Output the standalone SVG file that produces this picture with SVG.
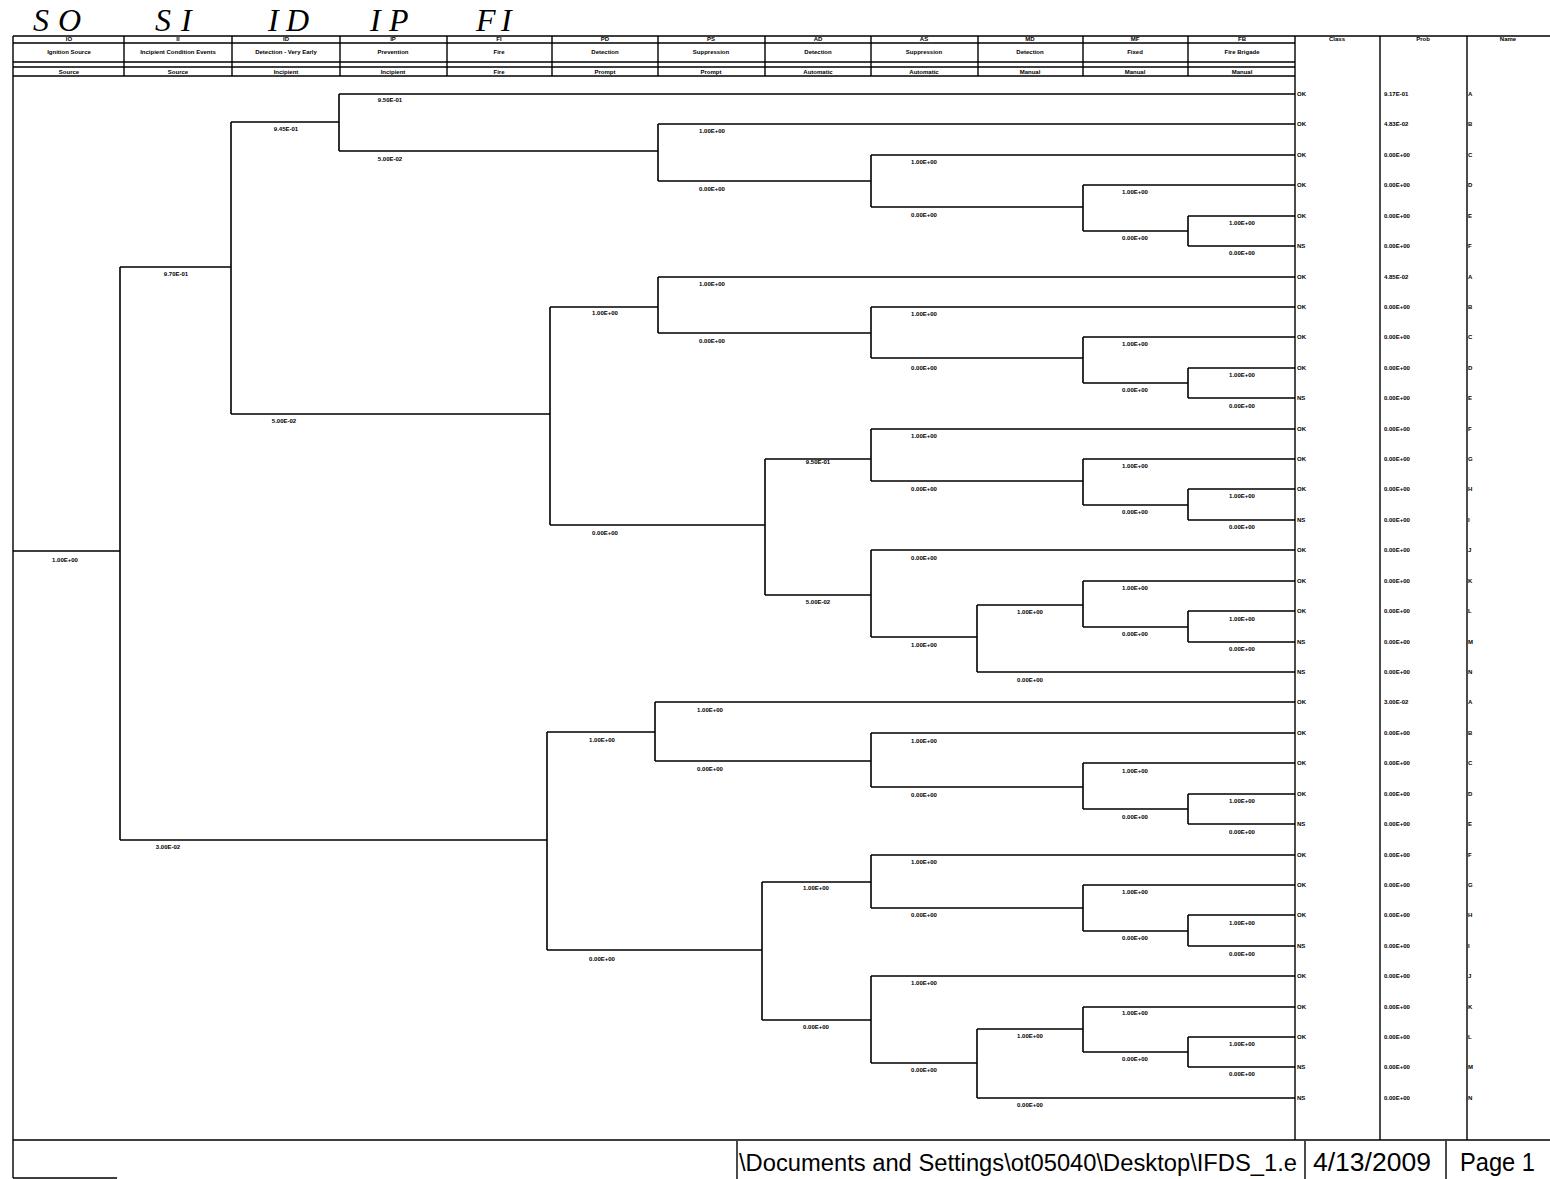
<svg xmlns="http://www.w3.org/2000/svg" width="1550" height="1179" viewBox="0 0 1550 1179">
<style>
.ln{stroke:#000;stroke-width:1.6;fill:none}
.bd{stroke:#000;stroke-width:1.4;fill:none}
.t{font-family:"Liberation Sans",Arial,sans-serif;font-size:6px;font-weight:bold;text-anchor:middle;fill:#000}
.s{font-family:"Liberation Sans",Arial,sans-serif;font-size:6px;font-weight:bold;fill:#000}
.h{font-family:"Liberation Serif","Times New Roman",serif;font-size:32px;font-style:italic;fill:#000}
.f{font-family:"Liberation Sans",Arial,sans-serif;font-size:25px;fill:#000}
</style>
<rect width="1550" height="1179" fill="#fff"/>
<g id="handwriting">
<text class="h" x="33" y="31">S</text><text class="h" x="58" y="31">O</text>
<text class="h" x="155" y="31">S</text><text class="h" x="181" y="31">I</text>
<text class="h" x="268" y="31">I</text><text class="h" x="286" y="31">D</text>
<text class="h" x="370" y="31">I</text><text class="h" x="389" y="31">P</text>
<text class="h" x="476" y="31">F</text><text class="h" x="501" y="31">I</text>
</g>
<g id="header">
<path class="bd" d="M13,36 H1550 M13,43 H1295 M13,62 H1295 M13,67 H1295 M13,76 H1295 M13,36 V1178 M124,36 V76 M232,36 V76 M340,36 V76 M447,36 V76 M552,36 V76 M658,36 V76 M765,36 V76 M871,36 V76 M978,36 V76 M1083,36 V76 M1188,36 V76 M1295,36 V1140 M1380,36 V1140 M1467,36 V1140"/>
<text class="t" x="69" y="41">IO</text><text class="t" x="69" y="54">Ignition Source</text><text class="t" x="69" y="74">Source</text>
<text class="t" x="178" y="41">II</text><text class="t" x="178" y="54">Incipient Condition Events</text><text class="t" x="178" y="74">Source</text>
<text class="t" x="286" y="41">ID</text><text class="t" x="286" y="54">Detection - Very Early</text><text class="t" x="286" y="74">Incipient</text>
<text class="t" x="393" y="41">IP</text><text class="t" x="393" y="54">Prevention</text><text class="t" x="393" y="74">Incipient</text>
<text class="t" x="499" y="41">FI</text><text class="t" x="499" y="54">Fire</text><text class="t" x="499" y="74">Fire</text>
<text class="t" x="605" y="41">PD</text><text class="t" x="605" y="54">Detection</text><text class="t" x="605" y="74">Prompt</text>
<text class="t" x="711" y="41">PS</text><text class="t" x="711" y="54">Suppression</text><text class="t" x="711" y="74">Prompt</text>
<text class="t" x="818" y="41">AD</text><text class="t" x="818" y="54">Detection</text><text class="t" x="818" y="74">Automatic</text>
<text class="t" x="924" y="41">AS</text><text class="t" x="924" y="54">Suppression</text><text class="t" x="924" y="74">Automatic</text>
<text class="t" x="1030" y="41">MD</text><text class="t" x="1030" y="54">Detection</text><text class="t" x="1030" y="74">Manual</text>
<text class="t" x="1135" y="41">MF</text><text class="t" x="1135" y="54">Fixed</text><text class="t" x="1135" y="74">Manual</text>
<text class="t" x="1242" y="41">FB</text><text class="t" x="1242" y="54">Fire Brigade</text><text class="t" x="1242" y="74">Manual</text>
<text class="t" x="1337" y="41">Class</text><text class="t" x="1423" y="41">Prob</text><text class="t" x="1508" y="41">Name</text>
</g>
<g id="connectors">
<path class="ln" d="M13,551 H120 M120,267 V840 M120,267 H231 M120,840 H547
M231,122 V414 M231,122 H339 M231,414 H550
M339,94 V151 M339,94 H1295 M339,151 H658
M658,124 V181 M658,124 H1295 M658,181 H871
M871,155 V207 M871,155 H1295 M871,207 H1083
M1083,185 V231 M1083,185 H1295 M1083,231 H1188
M1188,216 V246 M1188,216 H1295 M1188,246 H1295
M550,307 V525 M550,307 H658 M550,525 H765
M658,277 V333 M658,277 H1295 M658,333 H871
M871,307 V358 M871,307 H1295 M871,358 H1083
M1083,337 V383 M1083,337 H1295 M1083,383 H1188
M1188,368 V398 M1188,368 H1295 M1188,398 H1295
M765,459 V595 M765,459 H871 M765,595 H871
M871,429 V481 M871,429 H1295 M871,481 H1083
M1083,459 V505 M1083,459 H1295 M1083,505 H1188
M1188,489 V520 M1188,489 H1295 M1188,520 H1295
M871,550 V637 M871,550 H1295 M871,637 H977
M977,605 V672 M977,605 H1083 M977,672 H1295
M1083,581 V627 M1083,581 H1295 M1083,627 H1188
M1188,611 V642 M1188,611 H1295 M1188,642 H1295
M547,732 V950 M547,732 H655 M547,950 H762
M655,702 V761 M655,702 H1295 M655,761 H871
M871,733 V787 M871,733 H1295 M871,787 H1083
M1083,763 V809 M1083,763 H1295 M1083,809 H1188
M1188,794 V824 M1188,794 H1295 M1188,824 H1295
M762,882 V1020 M762,882 H871 M762,1020 H871
M871,855 V908 M871,855 H1295 M871,908 H1083
M1083,885 V931 M1083,885 H1295 M1083,931 H1188
M1188,915 V946 M1188,915 H1295 M1188,946 H1295
M871,976 V1063 M871,976 H1295 M871,1063 H977
M977,1029 V1098 M977,1029 H1083 M977,1098 H1295
M1083,1007 V1052 M1083,1007 H1295 M1083,1052 H1188
M1188,1037 V1067 M1188,1037 H1295 M1188,1067 H1295"/>
</g>
<g id="branch-labels">
<g id="n-root"><text class="t" x="65" y="562">1.00E+00</text></g>
<g id="n-II"><text class="t" x="176" y="276">9.70E-01</text><text class="t" x="168" y="849">3.00E-02</text></g>
<g id="n-ID"><text class="t" x="286" y="131">9.45E-01</text><text class="t" x="284" y="423">5.00E-02</text></g>
<g id="n-IP"><text class="t" x="390" y="102">9.50E-01</text><text class="t" x="390" y="161">5.00E-02</text></g>
<g id="n-g1"><text class="t" x="712" y="133">1.00E+00</text><text class="t" x="712" y="191">0.00E+00</text>
<text class="t" x="924" y="164">1.00E+00</text><text class="t" x="924" y="217">0.00E+00</text>
<text class="t" x="1135" y="194">1.00E+00</text><text class="t" x="1135" y="240">0.00E+00</text>
<text class="t" x="1242" y="225">1.00E+00</text><text class="t" x="1242" y="255">0.00E+00</text></g>
<g id="n-g2"><text class="t" x="605" y="315">1.00E+00</text><text class="t" x="605" y="535">0.00E+00</text>
<text class="t" x="712" y="286">1.00E+00</text><text class="t" x="712" y="343">0.00E+00</text>
<text class="t" x="924" y="316">1.00E+00</text><text class="t" x="924" y="370">0.00E+00</text>
<text class="t" x="1135" y="346">1.00E+00</text><text class="t" x="1135" y="392">0.00E+00</text>
<text class="t" x="1242" y="377">1.00E+00</text><text class="t" x="1242" y="408">0.00E+00</text>
<text class="t" x="818" y="464">9.50E-01</text><text class="t" x="818" y="604">5.00E-02</text>
<text class="t" x="924" y="438">1.00E+00</text><text class="t" x="924" y="491">0.00E+00</text>
<text class="t" x="1135" y="468">1.00E+00</text><text class="t" x="1135" y="514">0.00E+00</text>
<text class="t" x="1242" y="498">1.00E+00</text><text class="t" x="1242" y="529">0.00E+00</text>
<text class="t" x="924" y="560">0.00E+00</text><text class="t" x="924" y="647">1.00E+00</text>
<text class="t" x="1030" y="614">1.00E+00</text><text class="t" x="1030" y="682">0.00E+00</text>
<text class="t" x="1135" y="590">1.00E+00</text><text class="t" x="1135" y="636">0.00E+00</text>
<text class="t" x="1242" y="621">1.00E+00</text><text class="t" x="1242" y="651">0.00E+00</text></g>
<g id="n-g3"><text class="t" x="602" y="742">1.00E+00</text><text class="t" x="602" y="961">0.00E+00</text>
<text class="t" x="710" y="712">1.00E+00</text><text class="t" x="710" y="771">0.00E+00</text>
<text class="t" x="924" y="743">1.00E+00</text><text class="t" x="924" y="797">0.00E+00</text>
<text class="t" x="1135" y="773">1.00E+00</text><text class="t" x="1135" y="819">0.00E+00</text>
<text class="t" x="1242" y="803">1.00E+00</text><text class="t" x="1242" y="834">0.00E+00</text>
<text class="t" x="816" y="890">1.00E+00</text><text class="t" x="816" y="1029">0.00E+00</text>
<text class="t" x="924" y="864">1.00E+00</text><text class="t" x="924" y="917">0.00E+00</text>
<text class="t" x="1135" y="894">1.00E+00</text><text class="t" x="1135" y="940">0.00E+00</text>
<text class="t" x="1242" y="925">1.00E+00</text><text class="t" x="1242" y="956">0.00E+00</text>
<text class="t" x="924" y="985">1.00E+00</text><text class="t" x="924" y="1072">0.00E+00</text>
<text class="t" x="1030" y="1038">1.00E+00</text><text class="t" x="1030" y="1107">0.00E+00</text>
<text class="t" x="1135" y="1015">1.00E+00</text><text class="t" x="1135" y="1061">0.00E+00</text>
<text class="t" x="1242" y="1046">1.00E+00</text><text class="t" x="1242" y="1076">0.00E+00</text></g>
</g>
<g id="outcomes">
<g id="o1"><text class="s" x="1297" y="96">OK</text><text class="s" x="1384" y="96">9.17E-01</text><text class="s" x="1468" y="96">A</text></g>
<g id="o2"><text class="s" x="1297" y="126">OK</text><text class="s" x="1384" y="126">4.83E-02</text><text class="s" x="1468" y="126">B</text></g>
<g id="o3"><text class="s" x="1297" y="157">OK</text><text class="s" x="1384" y="157">0.00E+00</text><text class="s" x="1468" y="157">C</text></g>
<g id="o4"><text class="s" x="1297" y="187">OK</text><text class="s" x="1384" y="187">0.00E+00</text><text class="s" x="1468" y="187">D</text></g>
<g id="o5"><text class="s" x="1297" y="218">OK</text><text class="s" x="1384" y="218">0.00E+00</text><text class="s" x="1468" y="218">E</text></g>
<g id="o6"><text class="s" x="1297" y="248">NS</text><text class="s" x="1384" y="248">0.00E+00</text><text class="s" x="1468" y="248">F</text></g>
<g id="o7"><text class="s" x="1297" y="279">OK</text><text class="s" x="1384" y="279">4.85E-02</text><text class="s" x="1468" y="279">A</text></g>
<g id="o8"><text class="s" x="1297" y="309">OK</text><text class="s" x="1384" y="309">0.00E+00</text><text class="s" x="1468" y="309">B</text></g>
<g id="o9"><text class="s" x="1297" y="339">OK</text><text class="s" x="1384" y="339">0.00E+00</text><text class="s" x="1468" y="339">C</text></g>
<g id="o10"><text class="s" x="1297" y="370">OK</text><text class="s" x="1384" y="370">0.00E+00</text><text class="s" x="1468" y="370">D</text></g>
<g id="o11"><text class="s" x="1297" y="400">NS</text><text class="s" x="1384" y="400">0.00E+00</text><text class="s" x="1468" y="400">E</text></g>
<g id="o12"><text class="s" x="1297" y="431">OK</text><text class="s" x="1384" y="431">0.00E+00</text><text class="s" x="1468" y="431">F</text></g>
<g id="o13"><text class="s" x="1297" y="461">OK</text><text class="s" x="1384" y="461">0.00E+00</text><text class="s" x="1468" y="461">G</text></g>
<g id="o14"><text class="s" x="1297" y="491">OK</text><text class="s" x="1384" y="491">0.00E+00</text><text class="s" x="1468" y="491">H</text></g>
<g id="o15"><text class="s" x="1297" y="522">NS</text><text class="s" x="1384" y="522">0.00E+00</text><text class="s" x="1468" y="522">I</text></g>
<g id="o16"><text class="s" x="1297" y="552">OK</text><text class="s" x="1384" y="552">0.00E+00</text><text class="s" x="1468" y="552">J</text></g>
<g id="o17"><text class="s" x="1297" y="583">OK</text><text class="s" x="1384" y="583">0.00E+00</text><text class="s" x="1468" y="583">K</text></g>
<g id="o18"><text class="s" x="1297" y="613">OK</text><text class="s" x="1384" y="613">0.00E+00</text><text class="s" x="1468" y="613">L</text></g>
<g id="o19"><text class="s" x="1297" y="644">NS</text><text class="s" x="1384" y="644">0.00E+00</text><text class="s" x="1468" y="644">M</text></g>
<g id="o20"><text class="s" x="1297" y="674">NS</text><text class="s" x="1384" y="674">0.00E+00</text><text class="s" x="1468" y="674">N</text></g>
<g id="o21"><text class="s" x="1297" y="704">OK</text><text class="s" x="1384" y="704">3.00E-02</text><text class="s" x="1468" y="704">A</text></g>
<g id="o22"><text class="s" x="1297" y="735">OK</text><text class="s" x="1384" y="735">0.00E+00</text><text class="s" x="1468" y="735">B</text></g>
<g id="o23"><text class="s" x="1297" y="765">OK</text><text class="s" x="1384" y="765">0.00E+00</text><text class="s" x="1468" y="765">C</text></g>
<g id="o24"><text class="s" x="1297" y="796">OK</text><text class="s" x="1384" y="796">0.00E+00</text><text class="s" x="1468" y="796">D</text></g>
<g id="o25"><text class="s" x="1297" y="826">NS</text><text class="s" x="1384" y="826">0.00E+00</text><text class="s" x="1468" y="826">E</text></g>
<g id="o26"><text class="s" x="1297" y="857">OK</text><text class="s" x="1384" y="857">0.00E+00</text><text class="s" x="1468" y="857">F</text></g>
<g id="o27"><text class="s" x="1297" y="887">OK</text><text class="s" x="1384" y="887">0.00E+00</text><text class="s" x="1468" y="887">G</text></g>
<g id="o28"><text class="s" x="1297" y="917">OK</text><text class="s" x="1384" y="917">0.00E+00</text><text class="s" x="1468" y="917">H</text></g>
<g id="o29"><text class="s" x="1297" y="948">NS</text><text class="s" x="1384" y="948">0.00E+00</text><text class="s" x="1468" y="948">I</text></g>
<g id="o30"><text class="s" x="1297" y="978">OK</text><text class="s" x="1384" y="978">0.00E+00</text><text class="s" x="1468" y="978">J</text></g>
<g id="o31"><text class="s" x="1297" y="1009">OK</text><text class="s" x="1384" y="1009">0.00E+00</text><text class="s" x="1468" y="1009">K</text></g>
<g id="o32"><text class="s" x="1297" y="1039">OK</text><text class="s" x="1384" y="1039">0.00E+00</text><text class="s" x="1468" y="1039">L</text></g>
<g id="o33"><text class="s" x="1297" y="1069">NS</text><text class="s" x="1384" y="1069">0.00E+00</text><text class="s" x="1468" y="1069">M</text></g>
<g id="o34"><text class="s" x="1297" y="1100">NS</text><text class="s" x="1384" y="1100">0.00E+00</text><text class="s" x="1468" y="1100">N</text></g>
</g>
<g id="footer">
<path class="bd" d="M13,1140 H1550 M13,1178 H117 M737,1141 V1179 M1305,1141 V1179 M1446,1141 V1179"/>
<text class="f" x="739" y="1171" font-size="23.5" style="font-size:23.5px" textLength="558" lengthAdjust="spacingAndGlyphs">\Documents and Settings\ot05040\Desktop\IFDS_1.e</text>
<text class="f" x="1313" y="1171" textLength="118" lengthAdjust="spacingAndGlyphs">4/13/2009</text>
<text class="f" x="1460" y="1171" textLength="75" lengthAdjust="spacingAndGlyphs">Page 1</text>
</g>
</svg>
